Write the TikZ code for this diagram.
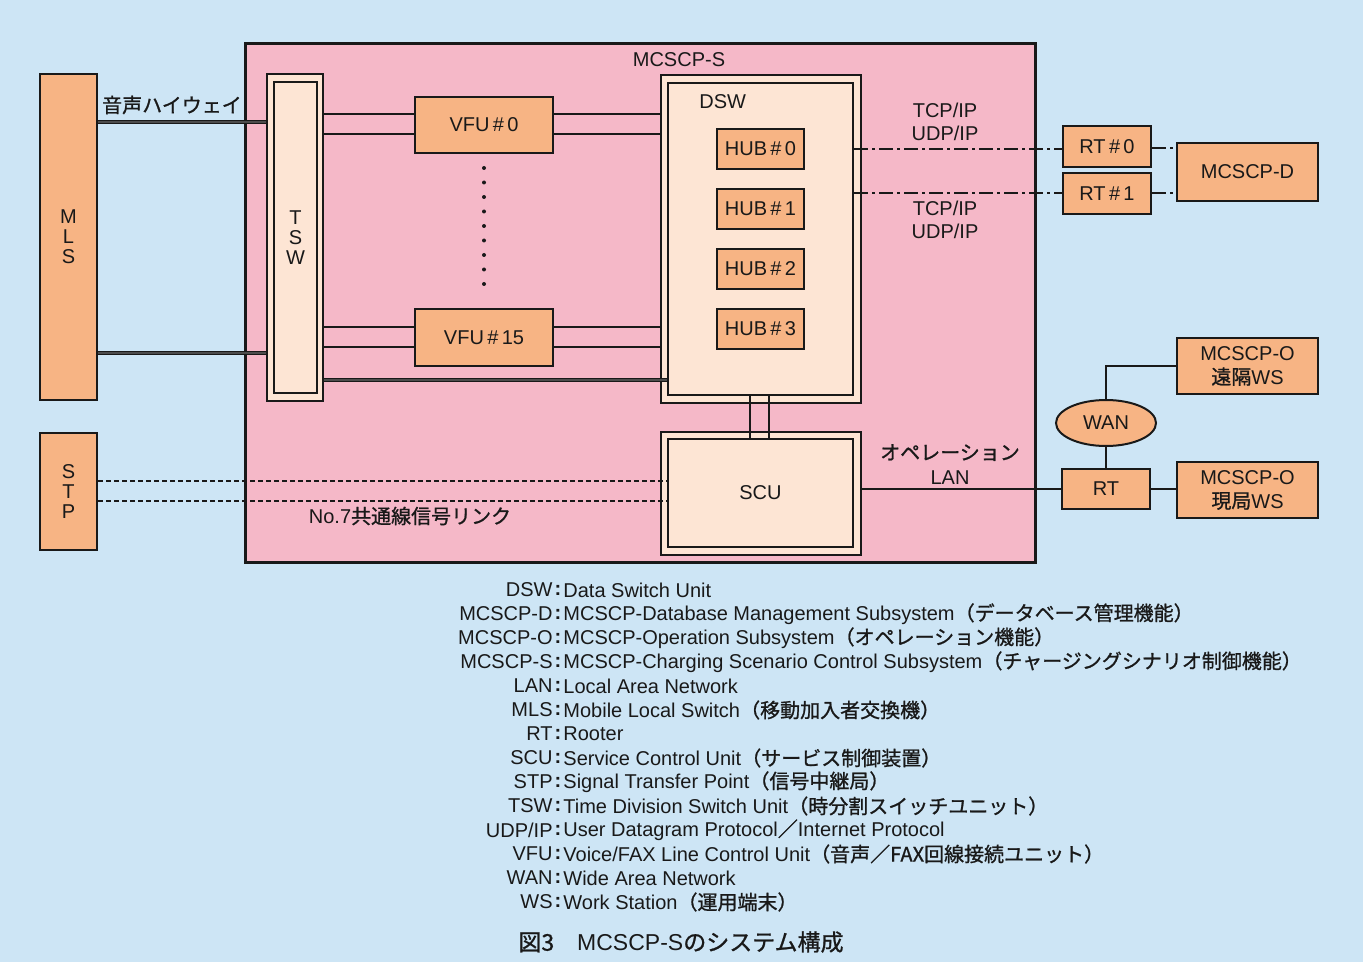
\documentclass[tikz,border=0pt]{standalone}
\usepackage{fontspec}
\setmainfont{Liberation Sans}
\newfontfamily\jp{Noto Sans CJK JP}[FakeBold=1]
\usetikzlibrary{shapes.geometric}
\definecolor{bgc}{RGB}{205,229,245}
\definecolor{pinkc}{RGB}{245,184,200}
\definecolor{boxor}{RGB}{247,180,132}
\definecolor{cream}{RGB}{253,229,212}
\definecolor{ink}{RGB}{25,25,25}
\newcommand\legrow[3]{%
  \node[leg,anchor=east] (k#1) at (553,{566+24*#1}) {#2};
  \node[leg] (c#1) at (558,{566+24*#1}) {\bfseries :};
  \node[leg,anchor=west] (d#1) at (563,{566+24*#1}) {#3};}
\begin{document}
\begin{tikzpicture}[x=0.5pt,y=-0.5pt,
  base/.style={draw=ink, line width=1pt, inner sep=0pt, text=ink,
    font=\fontsize{10}{10}\selectfont, align=center},
  obox/.style={base, fill=boxor},
  cbox/.style={base, fill=cream},
  wire/.style={draw=ink, line width=0.7pt},
  hwy/.style={draw=ink, line width=0.7pt, double=black!70, double distance=0.7pt},
  ddline/.style={wire, dash pattern=on 7pt off 2pt on 1.5pt off 2pt},
  dline/.style={wire, dash pattern=on 2.5pt off 1.5pt},
  lbl/.style={inner sep=0pt, text=ink, font=\fontsize{10}{11.5}\selectfont, align=center},
  leg/.style={inner sep=0pt, text=ink, font=\fontsize{10}{12}\selectfont},
  dotsline/.style={draw=ink, line width=2pt, line cap=round, dash pattern=on 0pt off 7.25pt}
]
\useasboundingbox (0,0) rectangle (1363,962);
\fill[bgc] (0,0) rectangle (1363,962);

% main MCSCP-S frame
\node[draw=ink, line width=1.5pt, fill=pinkc, minimum width=395pt, minimum height=259pt] (s) at (640,303) {};
\node[lbl] (stitle) at (679,60) {MCSCP-S};

% left side
\node[obox, minimum width=28.5pt, minimum height=163pt] (mls) at (68.5,237) {M\\L\\S};
\node[obox, minimum width=28.5pt, minimum height=58.5pt] (stp) at (68.5,491.5) {S\\T\\P};
\node[cbox, minimum width=28pt, minimum height=163.5pt] (tswo) at (295,237.5) {};
\node[cbox, minimum width=21.5pt, minimum height=155.5pt] (tswi) at (295.5,237.5) {T\\S\\W};

% VFUs
\node[obox, minimum width=69pt, minimum height=28pt] (vfu0) at (484,125) {VFU\,\#\,0};
\node[obox, minimum width=69pt, minimum height=28.5pt] (vfu15) at (484,337.5) {VFU\,\#\,15};

% DSW
\node[cbox, minimum width=100pt, minimum height=164pt] (dswo) at (761,239) {};
\node[cbox, minimum width=92.5pt, minimum height=156pt] (dswi) at (760.5,239) {};
\node[lbl, anchor=west] (dswl) at (699,102) {DSW};
\node[obox, minimum width=43.5pt, minimum height=20pt] (hub0) at (760.5,149) {HUB\,\#\,0};
\node[obox, minimum width=43.5pt, minimum height=20pt] (hub1) at (760.5,209) {HUB\,\#\,1};
\node[obox, minimum width=43.5pt, minimum height=20pt] (hub2) at (760.5,269) {HUB\,\#\,2};
\node[obox, minimum width=43.5pt, minimum height=20pt] (hub3) at (760.5,329) {HUB\,\#\,3};

% SCU
\node[cbox, minimum width=100pt, minimum height=61.5pt] (scuo) at (761,493.5) {};
\node[cbox, minimum width=92.5pt, minimum height=54pt] (scui) at (760.5,493) {SCU};

% right side
\node[obox, minimum width=44pt, minimum height=20.5pt] (rt0) at (1107,146.5) {RT\,\#\,0};
\node[obox, minimum width=44pt, minimum height=20.5pt] (rt1) at (1107,193.5) {RT\,\#\,1};
\node[obox, minimum width=70.5pt, minimum height=29pt] (mcd) at (1247.5,172) {MCSCP-D};
\node[obox, minimum width=70.5pt, minimum height=28pt, font=\fontsize{10}{12}\selectfont] (mco1) at (1247.5,366) {MCSCP-O\\{\jp 遠隔}WS};
\node[obox, ellipse, minimum width=50pt, minimum height=23pt] (wan) at (1106,423) {WAN};
\node[obox, minimum width=44pt, minimum height=20pt] (rt) at (1106,489) {RT};
\node[obox, minimum width=70.5pt, minimum height=28pt, font=\fontsize{10}{12}\selectfont] (mco2) at (1247.5,490) {MCSCP-O\\{\jp 現局}WS};

% connectors
\draw[hwy] (mls.east |- 0,122) -- (tswo.west |- 0,122);
\draw[hwy] (mls.east |- 0,353) -- (tswo.west |- 0,353);
\draw[wire] (tswo.east |- 0,114) -- (vfu0.west |- 0,114);
\draw[wire] (tswo.east |- 0,134) -- (vfu0.west |- 0,134);
\draw[wire] (vfu0.east |- 0,114) -- (dswo.west |- 0,114);
\draw[wire] (vfu0.east |- 0,134) -- (dswo.west |- 0,134);
\draw[wire] (tswo.east |- 0,327) -- (vfu15.west |- 0,327);
\draw[wire] (tswo.east |- 0,347) -- (vfu15.west |- 0,347);
\draw[wire] (vfu15.east |- 0,327) -- (dswo.west |- 0,327);
\draw[wire] (vfu15.east |- 0,347) -- (dswo.west |- 0,347);
\draw[hwy] (tswo.east |- 0,380) -- (dswi.west |- 0,380);
\draw[dotsline] ([yshift=-7pt]vfu0.south) -- ([yshift=5.5pt]vfu15.north);
\draw[wire] (dswi.south -| 750,0) -- (scui.north -| 750,0);
\draw[wire] (dswi.south -| 769,0) -- (scui.north -| 769,0);
\draw[ddline] (dswi.east |- 0,149) -- (rt0.west |- 0,149);
\draw[ddline] (dswi.east |- 0,193) -- (rt1.west |- 0,193);
\draw[ddline] (rt0.east |- 0,148) -- (mcd.west |- 0,148);
\draw[ddline] (rt1.east |- 0,193) -- (mcd.west |- 0,193);
\draw[wire] (scuo.east |- 0,489) -- (rt.west);
\draw[wire] (rt.east) -- (mco2.west |- rt.east);
\draw[wire] (rt.north) -- (wan.south);
\draw[wire] (wan.north) |- (mco1.west);
\draw[dline] (stp.east |- 0,481) -- (scui.west |- 0,481);
\draw[dline] (stp.east |- 0,501) -- (scui.west |- 0,501);

% labels
\node[lbl] (hwyl) at (172,105) {\jp 音声ハイウェイ};
\node[lbl] (tcp1) at (945,121.5) {TCP/IP\\UDP/IP};
\node[lbl] (tcp2) at (945,220) {TCP/IP\\UDP/IP};
\node[lbl, font=\fontsize{10}{12.5}\selectfont] (lanl) at (950,464.5) {{\jp オペレーション}\\LAN};
\node[lbl] (no7) at (410,516) {No.7{\jp 共通線信号リンク}};

% legend
\legrow{1}{DSW}{Data Switch Unit}
\legrow{2}{MCSCP-D}{MCSCP-Database Management Subsystem{\jp （データベース管理機能）}}
\legrow{3}{MCSCP-O}{MCSCP-Operation Subsystem{\jp （オペレーション機能）}}
\legrow{4}{MCSCP-S}{MCSCP-Charging Scenario Control Subsystem{\jp （チャージングシナリオ制御機能）}}
\legrow{5}{LAN}{Local Area Network}
\legrow{6}{MLS}{Mobile Local Switch{\jp （移動加入者交換機）}}
\legrow{7}{RT}{Rooter}
\legrow{8}{SCU}{Service Control Unit{\jp （サービス制御装置）}}
\legrow{9}{STP}{Signal Transfer Point{\jp （信号中継局）}}
\legrow{10}{TSW}{Time Division Switch Unit{\jp （時分割スイッチユニット）}}
\legrow{11}{UDP/IP}{User Datagram Protocol{\jp ／}Internet Protocol}
\legrow{12}{VFU}{Voice/FAX Line Control Unit{\jp （音声／FAX回線接続ユニット）}}
\legrow{13}{WAN}{Wide Area Network}
\legrow{14}{WS}{Work Station{\jp （運用端末）}}

\node[lbl, font=\fontsize{11.5}{12}\selectfont] (cap) at (681,942) {{\jp 図3}\hspace{1em}MCSCP-S{\jp のシステム構成}};
\end{tikzpicture}
\end{document}
